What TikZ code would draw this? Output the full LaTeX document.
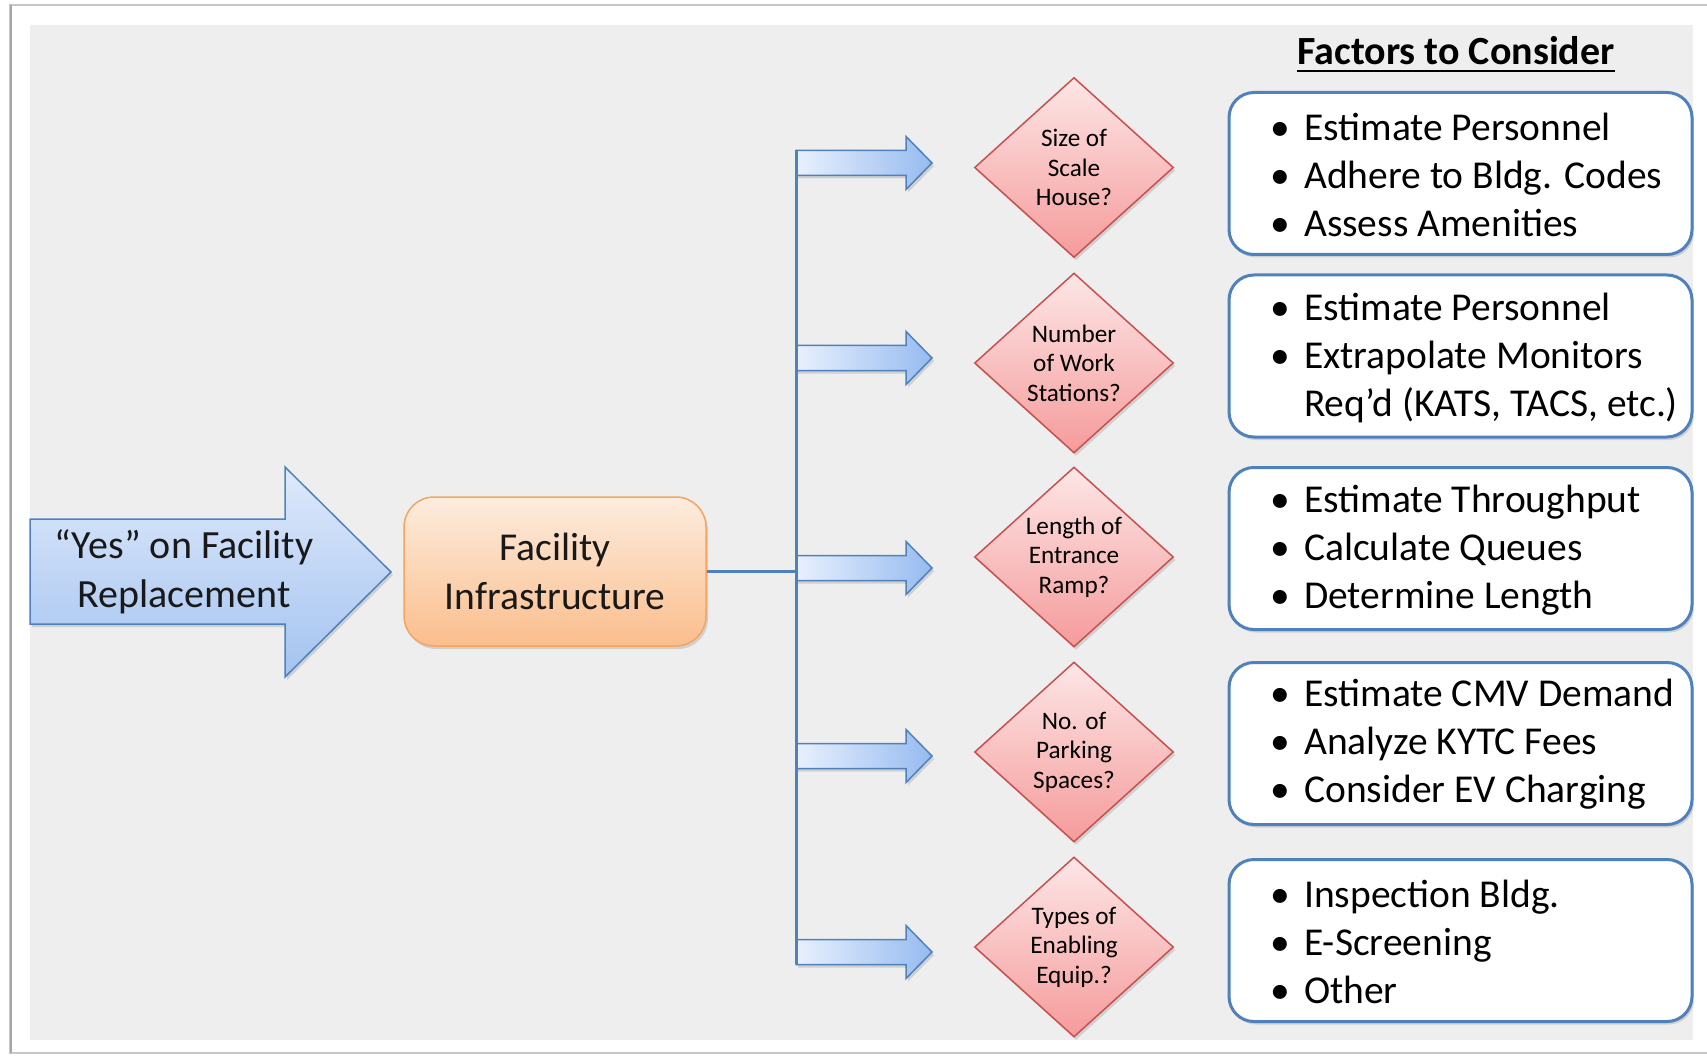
\documentclass[tikz,border=0pt]{standalone}
\usepackage{fontspec}
\setmainfont{Carlito}
\usetikzlibrary{shapes.geometric,shadows}
\definecolor{bgGrey}{RGB}{238,238,238}
\definecolor{blueLine}{RGB}{79,129,189}
\definecolor{blueTop}{RGB}{222,233,251}
\definecolor{blueBot}{RGB}{164,195,240}
\definecolor{blueLeft}{RGB}{232,240,253}
\definecolor{blueRight}{RGB}{150,187,240}
\definecolor{orangeTop}{RGB}{253,236,222}
\definecolor{orangeBot}{RGB}{250,190,140}
\definecolor{orangeLine}{RGB}{244,165,96}
\definecolor{pinkTop}{RGB}{253,230,230}
\definecolor{pinkBot}{RGB}{245,155,155}
\definecolor{redLine}{RGB}{200,80,78}
\definecolor{frameGrey}{RGB}{200,200,200}
\newcommand\blt{\makebox[34pt][l]{•}}
\begin{document}
\begin{tikzpicture}[x=1pt,y=-1pt,
  softshadow/.style={drop shadow={opacity=0.22,shadow xshift=2pt,shadow yshift=-3pt,fill=black!60}},
  bigarrow/.style={draw=blueLine,line width=1.5pt,top color=blueTop,bottom color=blueBot,softshadow},
  branch/.style={draw=blueLine,line width=1.5pt,left color=blueLeft,right color=blueRight,softshadow},
  trunk/.style={draw=blueLine,line width=3pt},
  bigtext/.style={font=\fontsize{40}{49}\selectfont,align=center,text=black!90,inner sep=0pt},
  facbox/.style={draw=orangeLine,line width=1.5pt,rounded corners=30pt,top color=orangeTop,bottom color=orangeBot,
    minimum width=302pt,minimum height=149pt,font=\fontsize{39.5}{49}\selectfont,align=center,text=black!90,softshadow},
  decision/.style={diamond,aspect=1.1,draw=redLine,line width=1.5pt,top color=pinkTop,bottom color=pinkBot,
    minimum width=199pt,minimum height=180pt,inner sep=0pt,font=\fontsize{25.2}{29.5}\selectfont,align=center,text=black,softshadow},
  factbox/.style={draw=blueLine,line width=3pt,rounded corners=25pt,fill=white,minimum width=463pt,minimum height=162pt,softshadow},
  facttext/.style={font=\fontsize{39.5}{48}\selectfont,align=left,anchor=west,inner sep=0pt,text=black},
  titletext/.style={font=\bfseries\fontsize{40}{44}\selectfont,inner sep=0pt,anchor=base}
]
\useasboundingbox (0,0) rectangle (1707,1056);
\fill[white] (0,0) rectangle (1707,1056);
\draw[frameGrey,line width=2pt] (10,5) rectangle (1740,1053);
\draw[black!35,line width=2pt] (11,5) -- (11,1053);
\fill[bgGrey] (30,25) rectangle (1693,1040);

% title
\node[titletext] (title) at (1456,65) {Factors to Consider};
\draw[line width=2pt] ([yshift=-6pt]title.base west) -- ([yshift=-6pt]title.base east);

% big arrow
\path[bigarrow] (30,519) -- (285,519) -- (285,467) -- (391,572) -- (285,677) -- (285,624) -- (30,624) -- cycle;
\node[bigtext] (yes) at (184,572) {“Yes” on Facility\\Replacement};

% facility infrastructure
\node[facbox] (fi) at (555,571.5) {Facility\\Infrastructure};

% trunk and branch arrows
\coordinate (trunkTop) at (796,150);
\coordinate (trunkBot) at (796,964);
\foreach \c/\n in {163/1,358/2,568/3,756/4,952/5}{
  \coordinate (a\n) at (796,\c);
  \path[branch] ([yshift=12.5pt]a\n) -- ++(110,0) -- ++(0,-14) -- ++(26,26.5) -- ++(-26,26.5) -- ++(0,-14) -- ++(-110,0) -- cycle;
}
\draw[trunk] (fi.east) -- (fi.east -| trunkTop);
\draw[trunk] (trunkTop) -- (trunkBot);

% decisions
\node[decision] (d1) at (1074,167.5) {Size of\\Scale\\House?};
\node[decision] (d2) at (1074,363) {Number\\of Work\\Stations?};
\node[decision] (d3) at (1074,557) {Length of\\Entrance\\Ramp?};
\node[decision] (d4) at (1074,752) {No. of\\Parking\\Spaces?};
\node[decision] (d5) at (1074,947) {Types of\\Enabling\\Equip.?};

% factor boxes
\node[factbox] (f1) at (1460.5,173.5) {};
\node[factbox] (f2) at (1460.5,356) {};
\node[factbox] (f3) at (1460.5,548.5) {};
\node[factbox] (f4) at (1460.5,743.5) {};
\node[factbox] (f5) at (1460.5,940.5) {};

\node[facttext] (t1) at (1270,175) {\blt Estimate Personnel\\\blt Adhere to Bldg. Codes\\\blt Assess Amenities};
\node[facttext] (t2) at (1270,358) {\blt Estimate Personnel\\\blt Extrapolate Monitors\\\hspace*{34pt}Req’d (KATS, TACS, etc.)};
\node[facttext] (t3) at (1270,550) {\blt Estimate Throughput\\\blt Calculate Queues\\\blt Determine Length};
\node[facttext] (t4) at (1270,744) {\blt Estimate CMV Demand\\\blt Analyze KYTC Fees\\\blt Consider EV Charging};
\node[facttext] (t5) at (1270,942) {\blt Inspection Bldg.\\\blt E-Screening\\\blt Other};
\end{tikzpicture}
\end{document}
